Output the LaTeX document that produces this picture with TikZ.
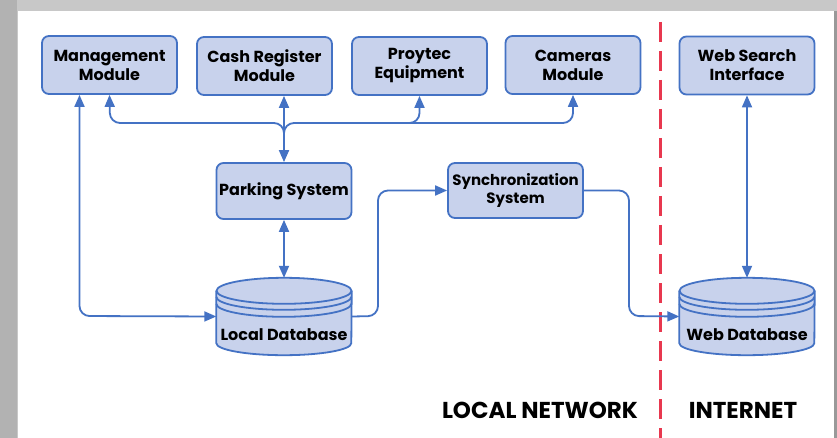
\documentclass[tikz,border=0pt]{standalone}
\usepackage{fontspec}
\setmainfont{Poppins}
\usetikzlibrary{arrows.meta,calc}
\definecolor{boxfill}{HTML}{C8D2EC}
\definecolor{boxline}{HTML}{4472C4}
\definecolor{redline}{HTML}{E8384F}
\definecolor{framegray}{HTML}{C8C8C8}
\tikzset{
  x=1pt,y=-1pt,
  modbox/.style={draw=boxline,fill=boxfill,line width=1.8pt,rounded corners=7pt,
    minimum width=135pt,minimum height=58pt,align=center,inner sep=0pt,
    font=\fontsize{16}{19}\selectfont\bfseries},
  dbbox/.style={minimum width=135pt,minimum height=77pt,inner sep=0pt},
  dbtext/.style={font=\fontsize{16}{19}\selectfont\bfseries},
  conn/.style={draw=boxline,line width=1.8pt,rounded corners=10pt},
  tip/.style={-{Triangle[length=12pt,width=10pt]}},
  tips/.style={{Triangle[length=12pt,width=10pt]}-{Triangle[length=12pt,width=10pt]}},
  zone/.style={font=\fontsize{23}{27}\selectfont\bfseries},
}
\newcommand{\dbcyl}[1]{%
  \fill[boxfill] ($(#1.north west)+(0,13)$) -- ($(#1.south west)+(0,-12)$)
     arc[start angle=180,end angle=360,x radius=67.5pt,y radius=12pt]
     -- ($(#1.north east)+(0,13)$)
     arc[start angle=0,end angle=180,x radius=67.5pt,y radius=13pt] -- cycle;
  \draw[boxline,line width=1.8pt] ($(#1.north west)+(0,13)$) -- ($(#1.south west)+(0,-12)$)
     arc[start angle=180,end angle=360,x radius=67.5pt,y radius=12pt]
     -- ($(#1.north east)+(0,13)$);
  \draw[boxline,line width=1.8pt] ($(#1.north)+(0,13)$) ellipse[x radius=67.5pt,y radius=13pt];
  \draw[boxline,line width=1.8pt] ($(#1.north west)+(0,19)$)
     arc[start angle=180,end angle=360,x radius=67.5pt,y radius=13pt];
  \draw[boxline,line width=1.8pt] ($(#1.north west)+(0,26)$)
     arc[start angle=180,end angle=360,x radius=67.5pt,y radius=13pt];
}
\begin{document}
\begin{tikzpicture}
% frame
\fill[framegray] (0,0) rectangle (837,438);
\fill[gray!60] (0,0) rectangle (17,438);
\fill[white] (18,11) rectangle (834,438);
\fill[gray!80] (834,11) rectangle (837,438);
\useasboundingbox (0,0) rectangle (837,438);

% modules
\node[modbox] (mm) at (109.5,65) {Management\\Module};
\node[modbox] (cr) at (264.5,66) {Cash Register\\Module};
\node[modbox] (pe) at (419.5,66) {Proytec\\Equipment};
\node[modbox] (cm) at (573,65) {Cameras\\Module};
\node[modbox] (ws) at (747,65.5) {Web Search\\Interface};
\node[modbox,minimum height=56pt] (ps) at (284,191) {Parking System};
\node[modbox,minimum height=55pt,font=\fontsize{15}{18}\selectfont\bfseries] (sy) at (515.5,190.5) {Synchronization\\System};

% databases
\node[dbbox] (ldb) at (284,316.5) {};
\dbcyl{ldb}
\node[dbtext] (ldbt) at (284,335) {Local Database};
\node[dbbox] (wdb) at (747,316.5) {};
\dbcyl{wdb}
\node[dbtext] (wdbt) at (747,335) {Web Database};

% red divider
\draw[redline,line width=3pt,dash pattern=on 20pt off 9pt] (660,22) -- (660,438);

% zone labels
\node[zone] (ln) at (540,410) {LOCAL NETWORK};
\node[zone] (it) at (743,410) {INTERNET};

% bus
\coordinate (bj) at (284,123);
\draw[conn,tips] (ps.north) -- (ps.north |- cr.south);
\draw[conn,tip] (284,145) -- (284,123) -- (110,123) -- (mm.south);
\draw[conn,tip] (284,145) -- (284,123) -- (573,123) -- (cm.south);
\draw[conn,tip] (380,123) -- (pe.south |- bj) -- (pe.south);

% parking <-> local db
\draw[conn,tips] (ps.south) -- (ldb.north);
% management <-> local db
\coordinate (mmx) at ($(mm.south)+(-30,0)$);
\draw[conn,tips] (mmx) -- (mmx |- 0,316) -- (ldb.west);
% local db -> sync
\draw[conn,tip] (ldb.east) -- (378,316) -- (378,190.5) -- (sy.west);
% sync -> web db
\draw[conn,tip] (sy.east) -- (629,190.5) -- (629,316) -- (wdb.west);
% web search <-> web db
\draw[conn,tips] (ws.south) -- (wdb.north);
\end{tikzpicture}
\end{document}
